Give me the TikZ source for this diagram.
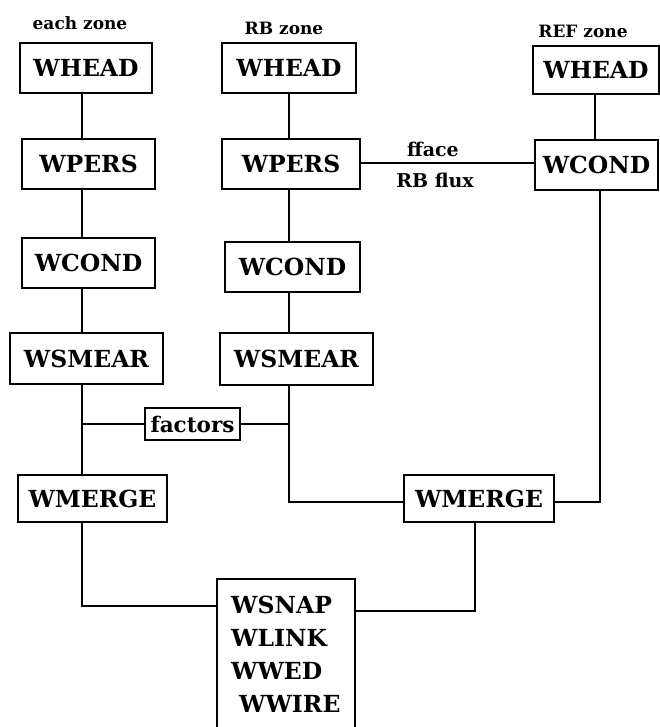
\documentclass[tikz,border=0pt]{standalone}
\usepackage{fontspec}
\setmainfont{DejaVu Serif}
\begin{document}
\begin{tikzpicture}[x=1pt,y=-1pt,
  box/.style={draw,line width=2pt,inner sep=0pt,font=\bfseries\fontsize{23.5}{32}\selectfont},
  link/.style={line width=1.8pt},
  zlabel/.style={inner sep=0pt,font=\bfseries\fontsize{17}{18}\selectfont},
  flabel/.style={inner sep=0pt,font=\bfseries\fontsize{19}{20}\selectfont}]
\useasboundingbox (0,0) rectangle (660,727);
% zone labels
\node[zlabel] (lz1) at (80,23) {each zone};
\node[zlabel] (lz2) at (284,28) {RB zone};
\node[zlabel] (lz3) at (583,31) {REF zone};
% column 1
\coordinate (c1) at (82,0);
\node[box,minimum width=132,minimum height=50] (h1) at (86,68) {WHEAD};
\node[box,minimum width=133,minimum height=50] (p1) at (88.5,164) {WPERS};
\node[box,minimum width=133,minimum height=50] (k1) at (88.5,263) {WCOND};
\node[box,minimum width=153,minimum height=51] (s1) at (86.5,358.5) {WSMEAR};
\node[box,minimum width=149,minimum height=47] (m1) at (92.5,498.5) {WMERGE};
% factors
\node[box,minimum width=95,minimum height=32,font=\bfseries\fontsize{21.5}{22}\selectfont] (fac) at (192.5,424) {factors};
% column 2
\coordinate (c2) at (289,0);
\node[box,minimum width=134,minimum height=50] (h2) at (289,68) {WHEAD};
\node[box,minimum width=138,minimum height=50] (p2) at (291,164) {WPERS};
\node[box,minimum width=135,minimum height=50] (k2) at (292.5,267) {WCOND};
\node[box,minimum width=153,minimum height=52] (s2) at (296.5,359) {WSMEAR};
\node[box,minimum width=150,minimum height=47] (m2) at (479,498.5) {WMERGE};
% column 3
\coordinate (c3) at (595,0);
\coordinate (c3b) at (600,0);
\node[box,minimum width=126,minimum height=48] (h3) at (596,70) {WHEAD};
\node[box,minimum width=123,minimum height=50] (k3) at (596.5,165) {WCOND};
% bottom box
\node[box,minimum width=138,minimum height=182,anchor=north] (snap) at (286,578) {};
\node[inner sep=0pt,anchor=north west,align=left,font=\bfseries\fontsize{23.5}{33}\selectfont] (snaptxt) at ([xshift=15pt,yshift=-18pt]snap.north west) {WSNAP\\WLINK\\WWED\\\hspace*{8pt}WWIRE};
% connectors column 1
\draw[link] (c1 |- h1.south) -- (c1 |- p1.north);
\draw[link] (c1 |- p1.south) -- (c1 |- k1.north);
\draw[link] (c1 |- k1.south) -- (c1 |- s1.north);
\draw[link] (c1 |- s1.south) -- (c1 |- m1.north);
\draw[link] (c1 |- fac.west) -- (fac.west);
\draw[link] (c1 |- m1.south) |- (snap.west |- 0,606);
% connectors column 2
\draw[link] (c2 |- h2.south) -- (c2 |- p2.north);
\draw[link] (c2 |- p2.south) -- (c2 |- k2.north);
\draw[link] (c2 |- k2.south) -- (c2 |- s2.north);
\draw[link] (fac.east) -- (c2 |- fac.east);
\draw[link] (c2 |- s2.south) |- (m2.west |- 0,502);
% column 3
\draw[link] (c3 |- h3.south) -- (c3 |- k3.north);
\draw[link] (c3b |- k3.south) |- (m2.east |- 0,502);
\draw[link] (p2.east |- 0,163) -- (k3.west |- 0,163);
\node[flabel] (ff) at (433,149) {fface};
\node[flabel] (rbf) at (435,180) {RB flux};
% merge to snap
\draw[link] (m2.south -| 475,0) |- (snap.east |- 0,611);
\end{tikzpicture}
\end{document}
